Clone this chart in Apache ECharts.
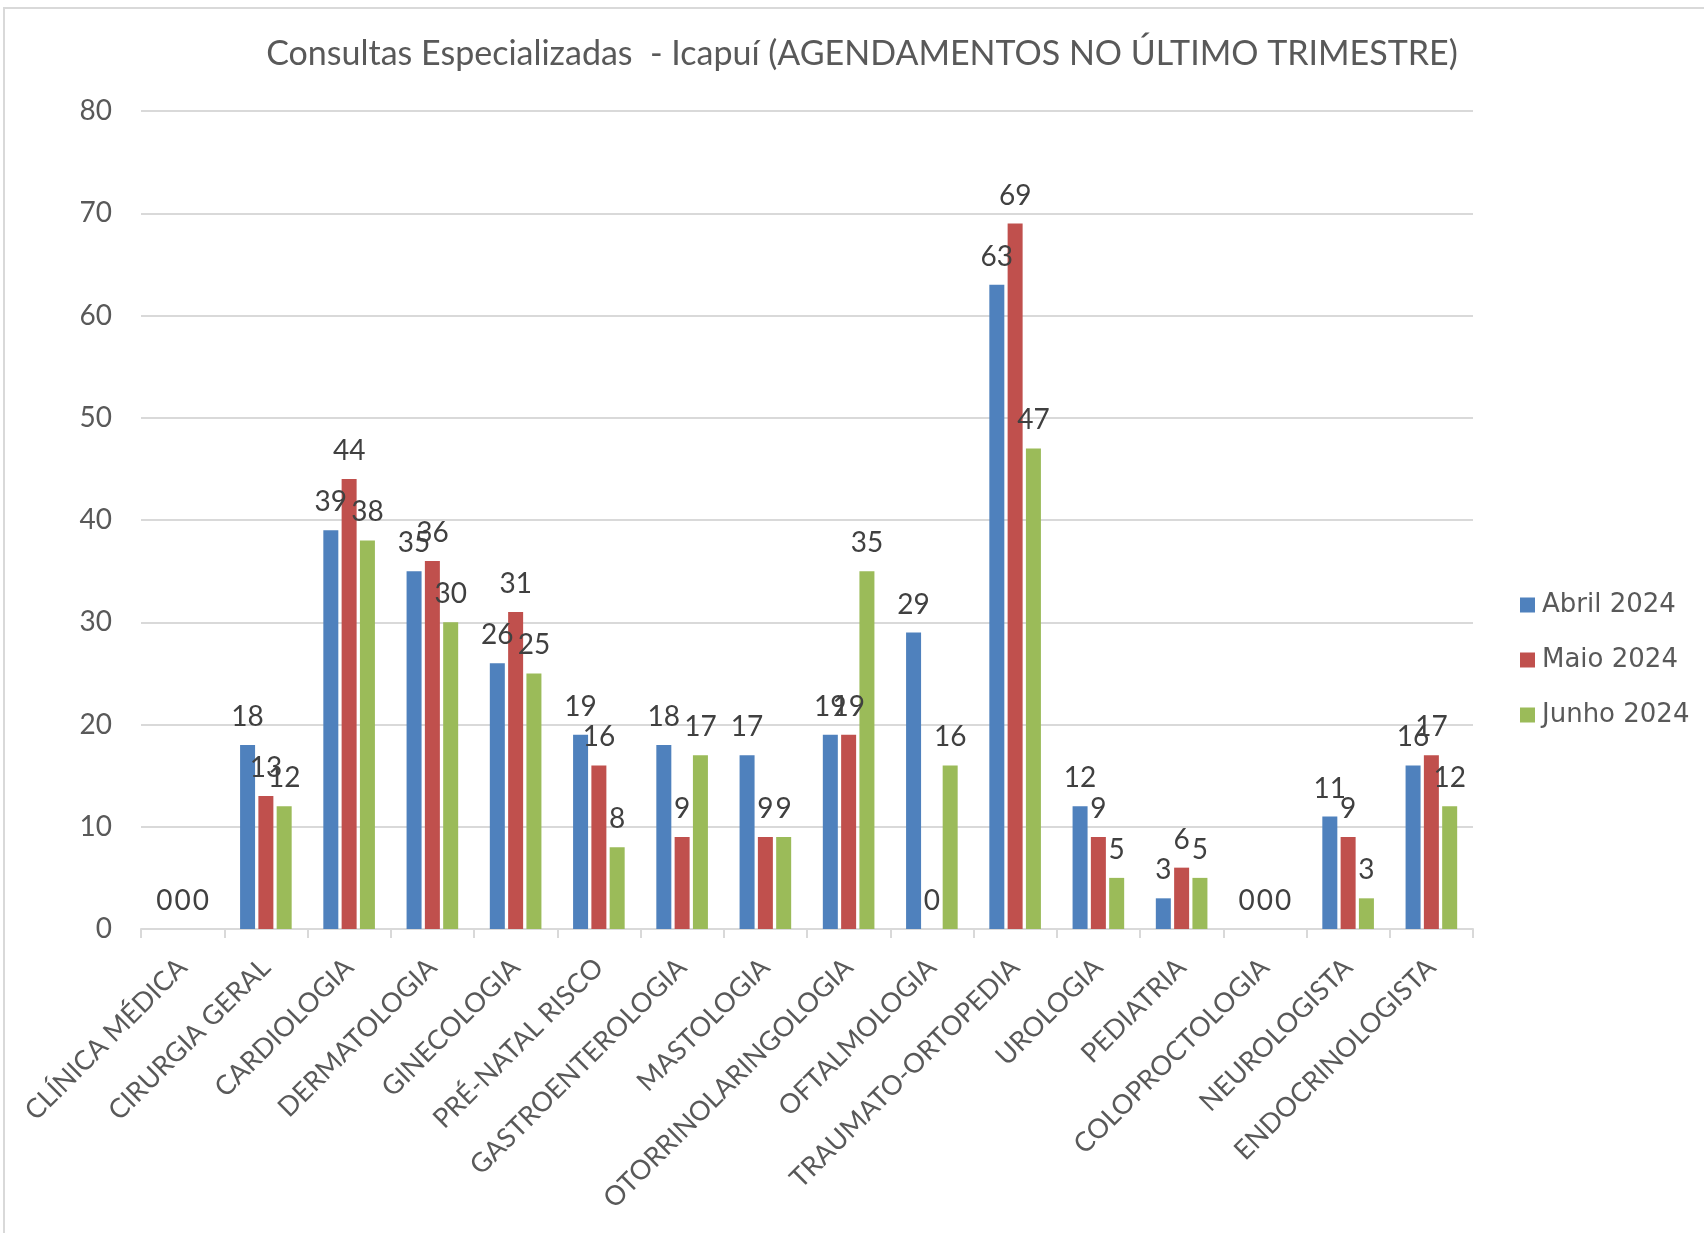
<!DOCTYPE html>
<html><head><meta charset="utf-8">
<script src="https://cdn.jsdelivr.net/npm/echarts@6/dist/echarts.min.js"></script>
<style>html,body{margin:0;padding:0;background:#fff}#c{width:1704px;height:1233px}</style>
</head><body><div id="c"></div>
<script>
const categories = ['CLÍNICA MÉDICA','CIRURGIA GERAL','CARDIOLOGIA','DERMATOLOGIA','GINECOLOGIA','PRÉ-NATAL RISCO','GASTROENTEROLOGIA','MASTOLOGIA','OTORRINOLARINGOLOGIA','OFTALMOLOGIA','TRAUMATO-ORTOPEDIA','UROLOGIA','PEDIATRIA','COLOPROCTOLOGIA','NEUROLOGISTA','ENDOCRINOLOGISTA'];
const abril = [0,18,39,35,26,19,18,17,19,29,63,12,3,0,11,16];
const maio  = [0,13,44,36,31,16,9,9,19,0,69,9,6,0,9,17];
const junho = [0,12,38,30,25,8,17,9,35,16,47,5,5,0,3,12];
const seriesNames = ['Abril 2024','Maio 2024','Junho 2024'];
const colors = ['#4F81BD','#C0504D','#9BBB59'];
const yTicks = [0,10,20,30,40,50,60,70,80];

const font = 'Lato, "Open Sans", sans-serif';
const txt = '#595959';
const chart = echarts.init(document.getElementById('c'));
function mk(name, data, color){
  return {name, type:'bar', data, barWidth:15, barGap:'22%',
    itemStyle:{color},
    label:{show:true, position:'top', distance:14, color:'#404040', fontFamily:font, fontSize:28}};
}
chart.setOption({
  animation:false,
  color: colors,
  title:{text:'Consultas Especializadas  - Icapuí (AGENDAMENTOS NO ÚLTIMO TRIMESTRE)', left:857, top:32, textAlign:'center',
    textStyle:{fontFamily:font, fontSize:34, fontWeight:'normal', color:txt}},
  legend:{orient:'vertical', left:1515, top:587, itemWidth:15, itemHeight:15, itemGap:29, icon:'rect',
    textStyle:{fontFamily:'"DejaVu Sans", sans-serif', fontSize:26, color:txt, padding:[0,0,0,2]}},
  graphic:[{type:'rect', shape:{x:4,y:8,width:2000,height:2000}, style:{fill:'none', stroke:'#D9D9D9', lineWidth:2}, silent:true}],
  grid:{left:141, right:231, top:111, bottom:304},
  xAxis:{type:'category', data:categories,
    axisLine:{lineStyle:{color:'#D9D9D9', width:2}},
    axisTick:{show:true, length:9, lineStyle:{color:'#D9D9D9', width:2}},
    axisLabel:{rotate:45, interval:0, margin:34, fontFamily:font, fontSize:27, color:txt}},
  yAxis:{type:'value', min:yTicks[0], max:yTicks[yTicks.length-1], interval:10,
    axisLine:{show:false}, axisTick:{show:false},
    splitLine:{lineStyle:{color:'#D9D9D9', width:2}},
    axisLabel:{margin:29, fontFamily:font, fontSize:28, color:txt}},
  series:[mk(seriesNames[0],abril,colors[0]), mk(seriesNames[1],maio,colors[1]), mk(seriesNames[2],junho,colors[2])]
});
</script></body></html>
